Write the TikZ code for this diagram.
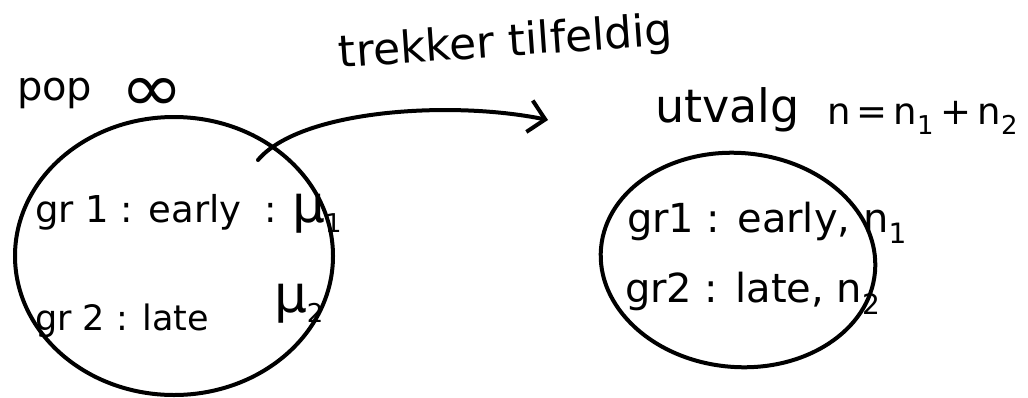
\documentclass[tikz,border=0pt]{standalone}
\usepackage{fontspec}
\setmainfont{DejaVu Sans}
\usetikzlibrary{arrows.meta,shapes.geometric}
\begin{document}
\begin{tikzpicture}[x=1pt,y=-1pt,line width=4pt,line cap=round,
  txt/.style={inner sep=0pt,anchor=base west,font=\fontsize{37}{42}\selectfont},
  blob/.style={ellipse,draw,inner sep=0pt}]
\useasboundingbox (0,0) rectangle (1028,397);
% circles
\node[blob,minimum width=318pt,minimum height=278pt] (pop) at (174,256) {};
\node[blob,minimum width=275pt,minimum height=214pt,rotate=-5] (sample) at (738,260) {};
% labels
\node[txt,font=\fontsize{40}{44}\selectfont] (poplab) at (15,100) {pop\hspace{28pt}\raisebox{-11pt}{\scalebox{1.9}[1.7]{∞}}};
\node[txt,rotate=4,font=\fontsize{44}{48}\selectfont] (trek) at (338,68) {trekker tilfeldig};
\node[txt,font=\fontsize{46}{50}\selectfont] (utv) at (653,122) {utvalg};
\node[txt] (utvn) at (825,124) {n\,=\,n\textsubscript{1}\,+\,n\textsubscript{2}};
\node[txt] (g1) at (33,222) {gr 1 : early};
\node[txt] (m1) at (262,222) {: \scalebox{1.4}{μ}\textsubscript{1}};
\node[txt,font=\fontsize{35}{40}\selectfont] (g2) at (33,330) {gr 2 : late};
\node[txt] (mu2) at (272,312) {\scalebox{1.4}{μ}\textsubscript{2}};
\node[txt,font=\fontsize{40}{44}\selectfont] (s1) at (625,232) {gr1 : early, n\textsubscript{1}};
\node[txt,font=\fontsize{40}{44}\selectfont] (s2) at (623,302) {gr2 : late, n\textsubscript{2}};
% arrow
\coordinate (astart) at (258,160);
\coordinate (aend) at (548,120);
\draw[-{Straight Barb[length=16pt,width=32pt]}] (astart) .. controls (300,110) and (450,100) .. (aend);
\end{tikzpicture}
\end{document}
